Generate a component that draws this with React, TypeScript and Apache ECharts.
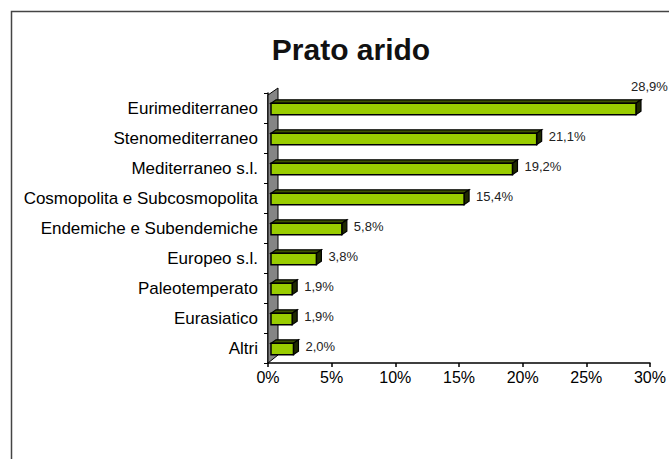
import React, { useEffect, useRef } from "react";
import * as echarts from "echarts";

const categories = [
  "Eurimediterraneo",
  "Stenomediterraneo",
  "Mediterraneo s.l.",
  "Cosmopolita e Subcosmopolita",
  "Endemiche e Subendemiche",
  "Europeo s.l.",
  "Paleotemperato",
  "Eurasiatico",
  "Altri",
];
const values = [28.9, 21.1, 19.2, 15.4, 5.8, 3.8, 1.9, 1.9, 2.0];
const xTicks = { min: 0, max: 30, interval: 5 };
const titleText = "Prato arido";

const FONT = "'Liberation Sans', Arial, sans-serif";

export default function App() {
  const ref = useRef<HTMLDivElement>(null);
  useEffect(() => {
    if (!ref.current) return;
    const chart = echarts.init(ref.current, undefined, { renderer: "svg" });
    const fmt = (v: number) => v.toFixed(1).replace(".", ",") + "%";

    const option: any = {
      animation: false,
      backgroundColor: "#ffffff",
      title: {
        text: titleText,
        left: 346,
        top: 29,
        textAlign: "center",
        textStyle: { fontFamily: FONT, fontSize: 30, fontWeight: "bold", color: "#111" },
      },
      graphic: [
        {
          type: "rect",
          shape: { x: 11.5, y: 11.5, width: 720, height: 520 },
          style: { fill: "none", stroke: "#444", lineWidth: 1.5 },
          silent: true,
        },
      ],
      grid: { left: 268, right: 12, top: 93, bottom: 96 },
      xAxis: {
        type: "value",
        min: xTicks.min,
        max: xTicks.max,
        interval: xTicks.interval,
        splitLine: { show: false },
        axisLine: { show: true, lineStyle: { color: "#000", width: 1.5 } },
        axisTick: { show: true, length: 4, lineStyle: { color: "#000", width: 1.5 } },
        axisLabel: {
          formatter: "{value}%",
          fontFamily: FONT,
          fontSize: 16,
          color: "#000",
          margin: 6,
        },
      },
      yAxis: {
        type: "category",
        data: categories,
        inverse: true,
        axisLine: { show: true, lineStyle: { color: "#000", width: 1.5 } },
        axisTick: { show: true, length: 4, lineStyle: { color: "#000", width: 1 } },
        axisLabel: { fontFamily: FONT, fontSize: 17, color: "#000", margin: 10 },
      },
      series: [
        {
          type: "custom",
          name: "wall",
          silent: true,
          z: 1,
          data: [[0, categories[0]]],
          encode: { x: 0, y: 1 },
          renderItem: (params: any) => {
            const cs = params.coordSys;
            const x0 = cs.x;
            const yT = cs.y;
            const yB = cs.y + cs.height;
            return {
              type: "polygon",
              shape: {
                points: [
                  [x0, yB],
                  [x0, yT + 2],
                  [x0 + 10, yT - 5],
                  [x0 + 10, yB - 8],
                ],
              },
              style: { fill: "#858585", stroke: "#000", lineWidth: 1 },
            };
          },
        },
        {
          type: "custom",
          name: "Prato arido",
          z: 3,
          data: values.map((v, i) => [v, categories[i]]),
          encode: { x: 0, y: 1 },
          renderItem: (params: any, api: any) => {
            const v = api.value(0);
            const cat = api.value(1);
            const start = api.coord([0, cat]);
            const end = api.coord([v, cat]);
            const band = api.size([0, 1])[1];
            const h = band * 0.38;
            const yc = end[1] + 1;
            const xl = start[0] + 3;
            const xr = end[0];
            const yt = yc - h / 2;
            const yb = yc + h / 2;
            const dx = 5;
            const dy = 3.5;
            const stroke = "#000";
            const children: any[] = [
              {
                type: "polygon",
                shape: { points: [[xl, yt], [xr, yt], [xr + dx, yt - dy], [xl + dx, yt - dy]] },
                style: { fill: "#3f5400", stroke, lineWidth: 1.2 },
              },
              {
                type: "polygon",
                shape: { points: [[xr, yt], [xr + dx, yt - dy], [xr + dx, yb - dy], [xr, yb]] },
                style: { fill: "#1f2a00", stroke, lineWidth: 1.2 },
              },
              {
                type: "rect",
                shape: { x: xl, y: yt, width: xr - xl, height: yb - yt },
                style: { fill: "#99cc00", stroke, lineWidth: 1.5 },
              },
            ];
            const label = fmt(v);
            const w = api.getWidth();
            if (xr + dx + 12 + 36 > w) {
              children.push({
                type: "text",
                style: {
                  text: label,
                  x: xr - 5,
                  y: yt - dy - 7,
                  textAlign: "left",
                  textVerticalAlign: "bottom",
                  font: `13px ${FONT}`,
                  fill: "#222",
                },
              });
            } else {
              children.push({
                type: "text",
                style: {
                  text: label,
                  x: xr + dx + 7,
                  y: yc - 3,
                  textAlign: "left",
                  textVerticalAlign: "middle",
                  font: `13px ${FONT}`,
                  fill: "#222",
                },
              });
            }
            return { type: "group", children };
          },
        },
      ],
    };
    chart.setOption(option);
    return () => chart.dispose();
  }, []);
  return (
    <div
      ref={ref}
      style={{ position: "absolute", left: 0, top: 0, width: 669, height: 459 }}
    />
  );
}
